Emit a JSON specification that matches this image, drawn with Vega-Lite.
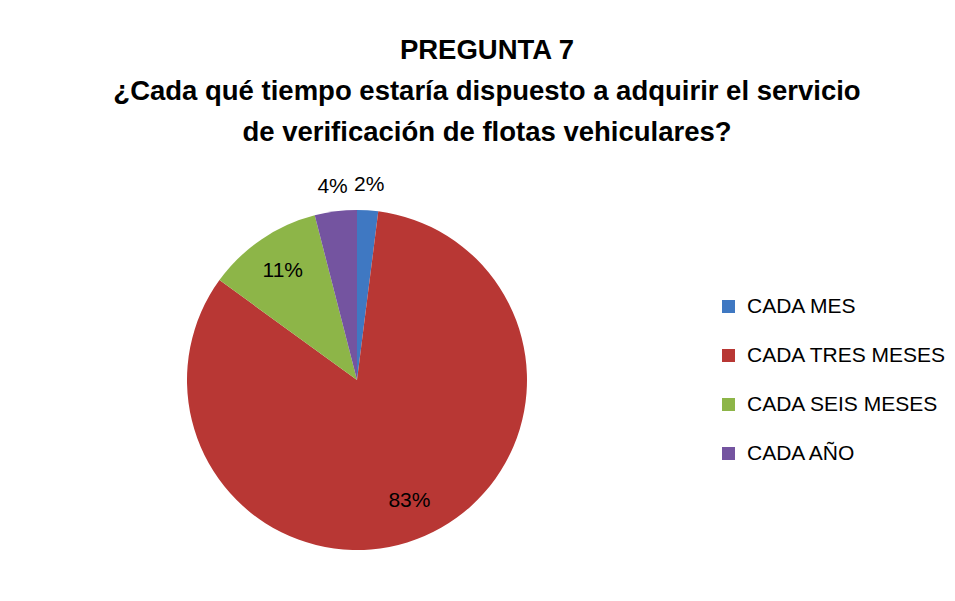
{
  "$schema": "https://vega.github.io/schema/vega-lite/v6.json",
  "width": 714,
  "height": 464,
  "padding": {"left": 0, "top": 36, "right": 0, "bottom": 0},
  "background": "white",
  "title": {
    "text": ["PREGUNTA 7", "¿Cada qué tiempo estaría dispuesto a adquirir el servicio", "de verificación de flotas vehiculares?"],
    "font": "Liberation Sans",
    "fontSize": 27.5,
    "fontWeight": "bold",
    "lineHeight": 41,
    "color": "#000000",
    "anchor": "middle",
    "frame": "group",
    "dx": 130,
    "offset": 2
  },
  "data": {
    "values": [
      {"cat": "CADA MES", "v": 0.02, "i": 1},
      {"cat": "CADA TRES MESES", "v": 0.83, "i": 2},
      {"cat": "CADA SEIS MESES", "v": 0.11, "i": 3},
      {"cat": "CADA AÑO", "v": 0.04, "i": 4}
    ]
  },
  "encoding": {
    "theta": {"field": "v", "type": "quantitative", "stack": true},
    "order": {"field": "i", "type": "quantitative"}
  },
  "layer": [
    {
      "mark": {"type": "arc", "outerRadius": 170, "stroke": null},
      "encoding": {
        "color": {
          "field": "cat",
          "type": "nominal",
          "sort": ["CADA MES", "CADA TRES MESES", "CADA SEIS MESES", "CADA AÑO"],
          "scale": {
            "domain": ["CADA MES", "CADA TRES MESES", "CADA SEIS MESES", "CADA AÑO"],
            "range": ["#3F78C2", "#B83734", "#8DB548", "#7454A0"]
          },
          "legend": {
            "title": null,
            "orient": "none",
            "legendX": 718,
            "legendY": 148,
            "symbolType": "square",
            "symbolSize": 169,
            "symbolStrokeWidth": 0,
            "labelFont": "Liberation Sans",
            "labelFontSize": 21,
            "labelColor": "#000000",
            "labelOffset": 8,
            "rowPadding": 27,
            "labelLimit": 300
          }
        }
      }
    },
    {
      "mark": {"type": "text", "radius": 132, "font": "Liberation Sans", "fontSize": 21, "color": "#000000"},
      "encoding": {
        "text": {"condition": {"test": "datum.v >= 0.05", "field": "v", "type": "quantitative", "format": ".0%"}, "value": ""}
      }
    },
    {
      "mark": {"type": "text", "radius": 195, "font": "Liberation Sans", "fontSize": 21, "color": "#000000"},
      "encoding": {
        "text": {"condition": {"test": "datum.v < 0.05", "field": "v", "type": "quantitative", "format": ".0%"}, "value": ""}
      }
    }
  ],
  "config": {
    "view": {"stroke": null},
    "font": "Liberation Sans"
  }
}
